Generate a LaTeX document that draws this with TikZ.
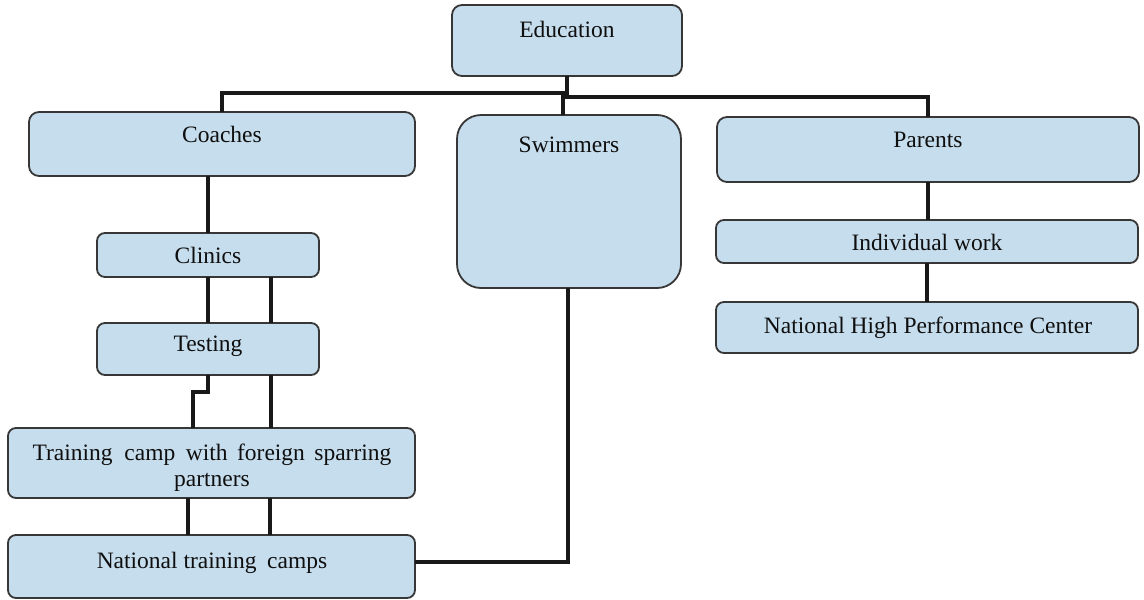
\documentclass[tikz,border=0pt]{standalone}
\usepackage{fontspec}
\setmainfont{Liberation Serif}
\definecolor{boxfill}{RGB}{198,221,237}
\definecolor{boxline}{RGB}{55,55,55}
\definecolor{txt}{RGB}{15,15,15}
\begin{document}
\begin{tikzpicture}[x=1pt,y=-1pt,
  bx/.style={draw=boxline, line width=1.8pt, fill=boxfill, rounded corners=8pt,
    inner sep=0pt, outer sep=0pt, anchor=north west},
  lbl/.style={anchor=base, inner sep=0pt, text=txt, align=center,
    font=\fontsize{23.5}{25.5}\selectfont},
  conn/.style={line width=3.6pt, draw=black!90}]
\useasboundingbox[fill=white] (0,0) rectangle (1144,600);

% boxes
\node[bx, rounded corners=10pt, minimum width=230pt, minimum height=71pt] (edu) at (452,5) {};
\node[bx, rounded corners=10pt, minimum width=386pt, minimum height=64pt] (coach) at (29,112) {};
\node[bx, rounded corners=24pt, minimum width=224pt, minimum height=173pt] (swim) at (457,115) {};
\node[bx, rounded corners=10pt, minimum width=422pt, minimum height=65pt] (par) at (717,117) {};
\node[bx, minimum width=222pt, minimum height=44pt] (clin) at (97,233) {};
\node[bx, minimum width=222pt, minimum height=52pt] (test) at (97,323) {};
\node[bx, minimum width=407pt, minimum height=70pt] (train) at (8,428) {};
\node[bx, minimum width=407pt, minimum height=63pt] (nat) at (8,535) {};
\node[bx, minimum width=422pt, minimum height=43pt] (ind) at (716,220) {};
\node[bx, minimum width=422pt, minimum height=51pt] (nhpc) at (716,302) {};

% labels
\node[lbl] (eduT) at (567,37) {Education};
\node[lbl] (coachT) at (222,142) {Coaches};
\node[lbl] (swimT) at (569,152) {Swimmers};
\node[lbl] (parT) at (928,147) {Parents};
\node[lbl] (clinT) at (208,263) {Clinics};
\node[lbl] (testT) at (208,351) {Testing};
\node[lbl] (trainT) at (212,486) {Training\hspace{0.25em} camp\hspace{0.2em} with\hspace{0.15em} foreign\hspace{0.15em} sparring\\partners};
\node[lbl] (natT) at (212,568) {National training\hspace{0.2em} camps};
\node[lbl] (indT) at (927,250) {Individual work};
\node[lbl] (nhpcT) at (928,333) {National High Performance Center};

% connector helper points
\coordinate (busL) at (567,93);
\coordinate (busR) at (567,97);
\coordinate (swimIn) at (563,93);
\coordinate (jog) at (193,392);

% connectors
\draw[conn] (coach.north) |- (busL);
\draw[conn] (edu.south) -- (busR) -| (par.north);
\draw[conn] (swimIn) -- (swimIn |- swim.north);
\draw[conn] (clin.north |- coach.south) -- (clin.north);
\draw[conn] (clin.south) -- (test.north);
\draw[conn] ([xshift=63pt]clin.south) -- ([xshift=63pt]test.north);
\draw[conn] (test.south) -- (test.south |- jog) -- (jog) -- (jog |- train.north);
\draw[conn] ([xshift=63pt]test.south) -- ([xshift=63pt]test.south |- train.north);
\draw[conn] ([xshift=-23.5pt]train.south) -- ([xshift=-23.5pt]nat.north);
\draw[conn] ([xshift=58.5pt]train.south) -- ([xshift=58.5pt]nat.north);
\draw[conn] ([xshift=-1pt]swim.south) |- ([yshift=4.5pt]nat.east);
\draw[conn] (par.south) -- (ind.north -| par.south);
\draw[conn] (ind.south) -- (nhpc.north);
\end{tikzpicture}
\end{document}
